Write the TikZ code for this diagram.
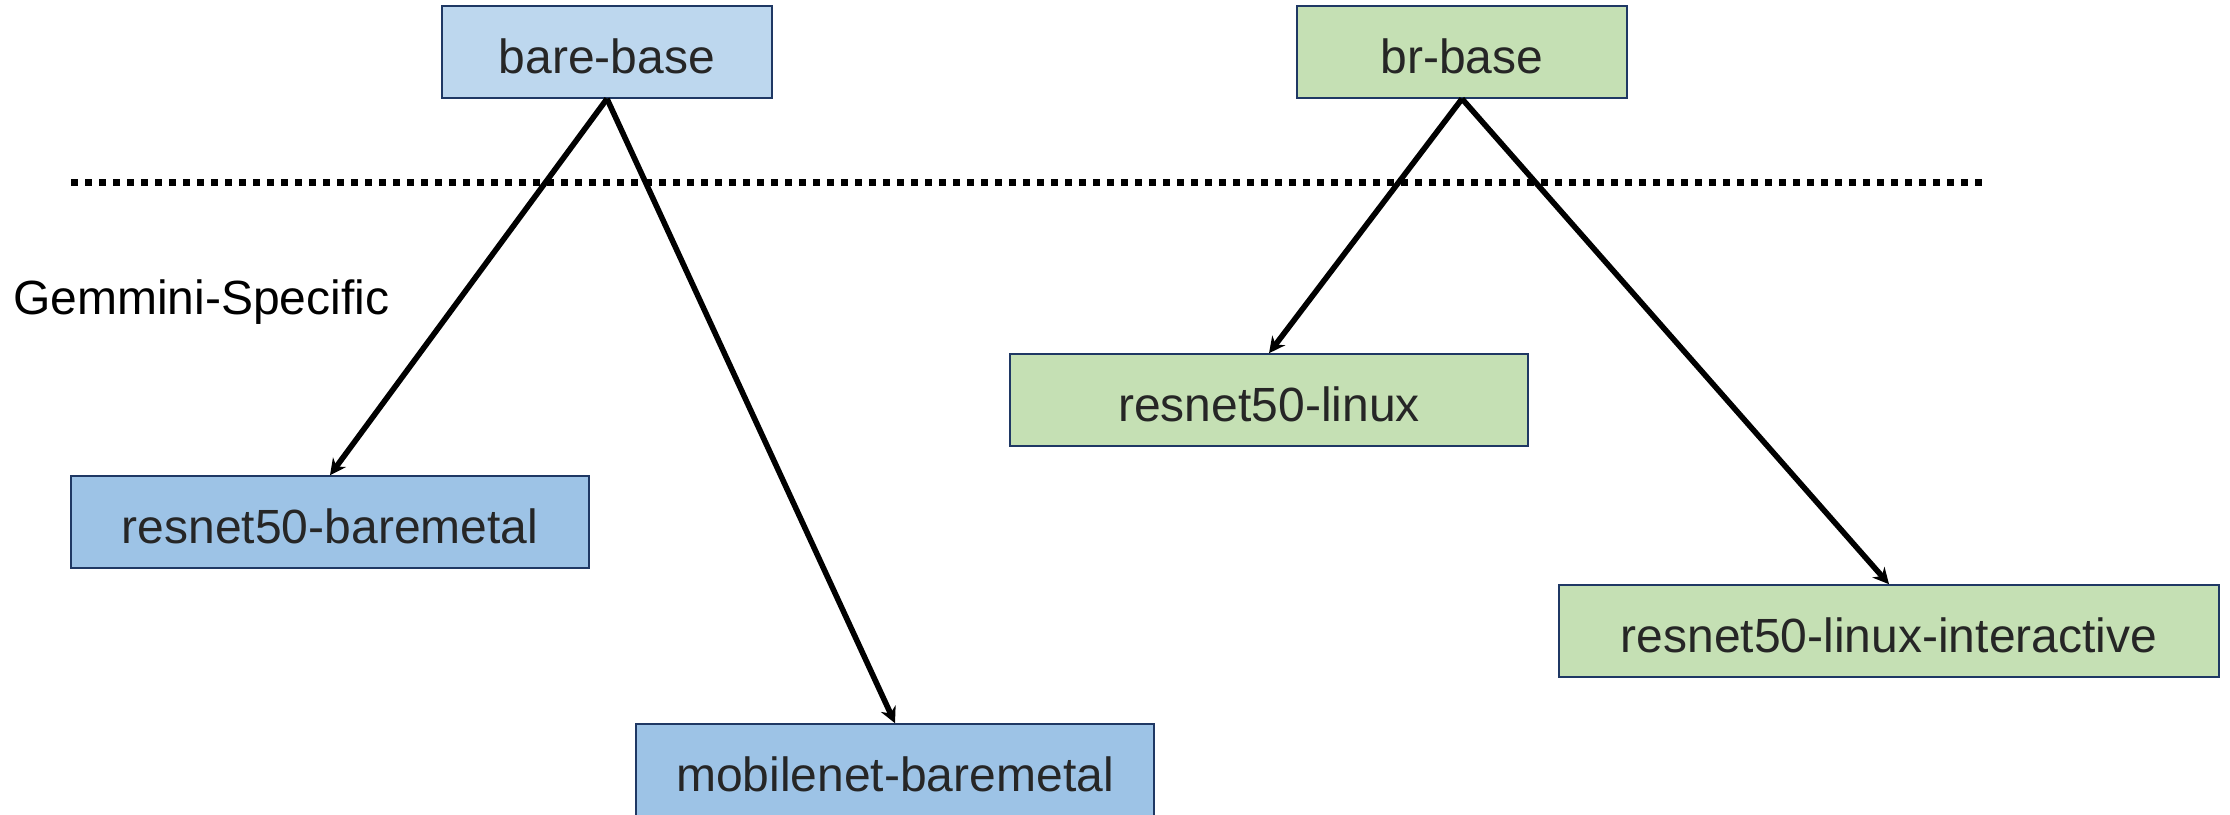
\documentclass[tikz,border=0pt]{standalone}
\usepackage{fontspec}
\setmainfont{Liberation Sans}
\usetikzlibrary{arrows.meta}
\definecolor{baseblue}{HTML}{BDD7EE}
\definecolor{leafblue}{HTML}{9DC3E6}
\definecolor{leafgreen}{HTML}{C5E0B4}
\definecolor{boxline}{HTML}{1F3864}
\definecolor{boxtext}{HTML}{262626}
\tikzset{
	wbox/.style={draw=boxline, line width=0.8pt, text=boxtext, inner sep=0pt, minimum height=46pt, text height=21.5pt, text depth=0pt, font=\fontsize{24}{28}\selectfont},
	inherit/.style={line width=2.8pt, -{Stealth[length=8pt,width=8pt]}}
}
\begin{document}
\begin{tikzpicture}[x=0.5pt, y=-0.5pt]
		%%%%% START %%%%%
		\useasboundingbox (0, 0) rectangle (2230, 814);
		
		\node[wbox, fill=baseblue, minimum width=165pt] (bareBase) at (607, 52) {bare-base};
		\node[wbox, fill=leafgreen, minimum width=165pt] (brBase) at (1462, 52) {br-base};
		
		\draw[line width=3.5pt, dash pattern=on 3.5pt off 3.5pt] (71, 182) -- (1984, 182);
		\node[anchor=west, font=\fontsize{24}{28}\selectfont] (gemminiLabel) at (6, 302) {Gemmini-Specific};
		
		\node[wbox, fill=leafblue, minimum width=259pt] (resnetBare) at (330, 522) {resnet50-baremetal};
		\node[wbox, fill=leafblue, minimum width=259pt] (mobilenetBare) at (895, 770) {mobilenet-baremetal};
		\node[wbox, fill=leafgreen, minimum width=259pt] (resnetLinux) at (1269, 400) {resnet50-linux};
		\node[wbox, fill=leafgreen, minimum width=330pt] (resnetInter) at (1889, 631) {resnet50-linux-interactive};
		
		\draw[inherit] (bareBase.south) -- (resnetBare.north);
		\draw[inherit] (bareBase.south) -- (mobilenetBare.north);
		\draw[inherit] (brBase.south) -- (resnetLinux.north);
		\draw[inherit] (brBase.south) -- (resnetInter.north);
		
		%%%%% END %%%%%
	\end{tikzpicture}
\end{document}
